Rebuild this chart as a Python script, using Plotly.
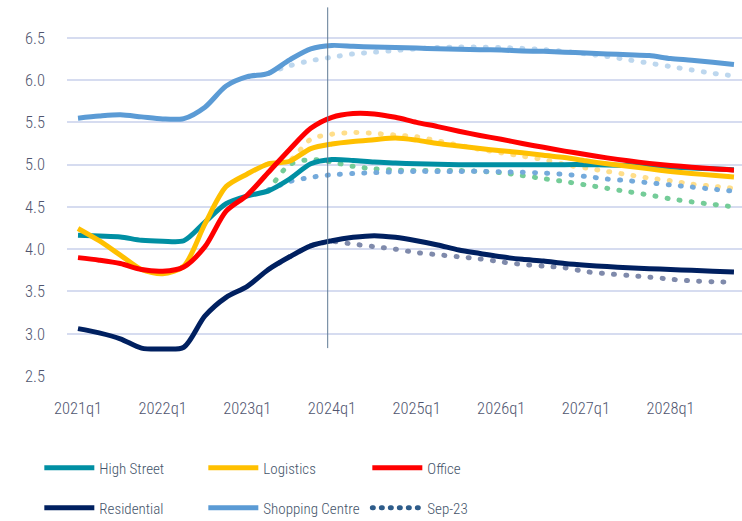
import plotly.graph_objects as go

quarters = ["2021q1","2021q2","2021q3","2021q4","2022q1","2022q2","2022q3","2022q4",
            "2023q1","2023q2","2023q3","2023q4","2024q1","2024q2","2024q3","2024q4",
            "2025q1","2025q2","2025q3","2025q4","2026q1","2026q2","2026q3","2026q4",
            "2027q1","2027q2","2027q3","2027q4","2028q1","2028q2","2028q3","2028q4"]
tick_labels = ["2021q1","2022q1","2023q1","2024q1","2025q1","2026q1","2027q1","2028q1"]
y_ticks = [2.5, 3.0, 3.5, 4.0, 4.5, 5.0, 5.5, 6.0, 6.5]

high_street = [4.165,4.155,4.145,4.105,4.095,4.10,4.32,4.54,4.63,4.69,4.83,5.01,5.06,5.05,5.03,5.02,
               5.01,5.005,5.0,5.0,5.0,5.0,5.0,5.0,5.0,4.995,4.99,4.98,4.97,4.96,4.95,4.94]
logistics = [4.245,4.10,3.93,3.76,3.71,3.80,4.30,4.74,4.89,5.01,5.04,5.19,5.245,5.275,5.295,5.315,
             5.29,5.25,5.22,5.19,5.165,5.14,5.11,5.085,5.045,5.01,4.98,4.95,4.92,4.895,4.875,4.855]
office = [3.90,3.87,3.83,3.76,3.74,3.79,4.03,4.45,4.64,4.91,5.18,5.43,5.56,5.605,5.60,5.56,
          5.50,5.45,5.395,5.345,5.30,5.25,5.205,5.16,5.12,5.08,5.045,5.015,4.99,4.97,4.95,4.935]
residential = [3.06,3.01,2.94,2.83,2.82,2.84,3.21,3.43,3.56,3.76,3.91,4.04,4.10,4.14,4.16,4.14,
               4.10,4.05,3.99,3.95,3.91,3.88,3.86,3.83,3.81,3.795,3.78,3.77,3.76,3.75,3.74,3.73]
shopping_centre = [5.55,5.575,5.59,5.565,5.54,5.545,5.68,5.93,6.04,6.08,6.24,6.37,6.41,6.40,6.39,6.385,
                   6.38,6.37,6.365,6.36,6.355,6.345,6.34,6.33,6.32,6.31,6.30,6.29,6.255,6.235,6.21,6.185]

# Sep-23 forecasts (start at 2023q2)
sep_start = 9
sep23_shopping = [6.08,6.17,6.23,6.27,6.31,6.33,6.35,6.37,6.385,6.39,6.39,6.385,6.375,6.36,6.34,6.31,
                  6.28,6.24,6.20,6.16,6.12,6.08,6.05]
sep23_logistics = [5.01,5.05,5.30,5.36,5.38,5.37,5.35,5.33,5.28,5.23,5.18,5.14,5.10,5.06,5.00,4.96,
                   4.92,4.88,4.84,4.81,4.77,4.745,4.72]
sep23_blue = [4.70,4.80,4.85,4.88,4.895,4.905,4.915,4.92,4.92,4.92,4.92,4.915,4.91,4.90,4.885,4.86,
              4.83,4.81,4.785,4.76,4.735,4.71,4.685]
sep23_green = [4.69,5.0,5.06,5.03,4.98,4.95,4.935,4.93,4.93,4.93,4.92,4.905,4.87,4.835,4.80,4.76,
               4.72,4.68,4.64,4.595,4.56,4.53,4.50]
sep23_residential = [3.76,3.91,4.04,4.09,4.06,4.03,4.00,3.96,3.935,3.91,3.885,3.85,3.82,3.80,3.78,3.735,
                     3.71,3.69,3.67,3.645,3.625,3.615,3.61]

marker_quarter = 11.8  # position of vertical marker line (in quarter index units)

solid = [
    ("High Street", high_street, "#008FA3", "legend"),
    ("Logistics", logistics, "#FFC000", "legend"),
    ("Office", office, "#FF0000", "legend"),
    ("Residential", residential, "#002060", "legend2"),
    ("Shopping Centre", shopping_centre, "#5B9BD5", "legend2"),
]
dotted = [
    (sep23_shopping, "#BDD7EE"),
    (sep23_logistics, "#FFDE8A"),
    (sep23_green, "#74CC98"),
    (sep23_blue, "#74AADB"),
    (sep23_residential, "#7F8AAB"),
]

DOT = "1px,11.2px"

fig = go.Figure()
sep_q = quarters[sep_start:]
for vals, col in dotted:
    fig.add_trace(go.Scatter(x=sep_q, y=vals, mode="lines", showlegend=False,
                             line=dict(color=col, width=5, dash=DOT, shape="spline", smoothing=0.8),
                             hoverinfo="skip"))
for name, vals, col, lg in solid:
    fig.add_trace(go.Scatter(x=quarters, y=vals, mode="lines", name=name, legend=lg,
                             line=dict(color=col, width=5, shape="spline", smoothing=0.8)))
fig.add_trace(go.Scatter(x=[None], y=[None], mode="lines", name="Sep-23", legend="legend2",
                         line=dict(color="#2E5C8A", width=5, dash="1px,8px")))

fig.add_shape(type="line", xref="x", yref="y", x0=marker_quarter, x1=marker_quarter,
              y0=2.83, y1=6.86, line=dict(color="#5F7A94", width=1))

fam = "Roboto Condensed, Liberation Sans Narrow, DejaVu Sans Condensed, Liberation Sans, sans-serif"
tickfont = dict(family=fam, size=16.5, color="#50556F", weight=300)
legfont = dict(family=fam, size=15, color="#44546A", weight=300)

leg_common = dict(orientation="h", xref="container", yref="container", x=0.053,
                  xanchor="left", yanchor="middle", font=legfont, itemwidth=50,
                  entrywidth=99, entrywidthmode="pixels", bgcolor="rgba(0,0,0,0)",
                  itemclick=False, itemdoubleclick=False)

fig.update_layout(
    width=742, height=521,
    margin=dict(l=67, r=0, t=4, b=145, autoexpand=False),
    plot_bgcolor="white", paper_bgcolor="white",
    xaxis=dict(type="category", categoryorder="array", categoryarray=quarters,
               range=[-0.52, 31.38], tickvals=tick_labels, ticktext=tick_labels,
               showgrid=False, zeroline=False, showline=False, ticks="", tickfont=tickfont,
               ticklabelstandoff=20, automargin=False),
    yaxis=dict(range=[2.5, 6.9], tickvals=y_ticks, ticktext=[f"{v:.1f}" for v in y_ticks],
               showgrid=True, gridcolor="#D6DCF0", gridwidth=1.5, zeroline=False, showline=False,
               ticks="", tickfont=tickfont, ticklabelstandoff=21, automargin=False),
    legend=dict(y=1 - 468 / 521, **leg_common),
    legend2=dict(y=1 - 508 / 521, **leg_common),
)

post = (
    "document.body.style.margin='0';"
    "document.querySelectorAll('path').forEach(function(p){"
    "var d=p.style.strokeDasharray; if(d && d!=='none'){p.style.strokeLinecap='round';}});"
)

fig.write_html("out.html", post_script=post, config={"displayModeBar": False})
